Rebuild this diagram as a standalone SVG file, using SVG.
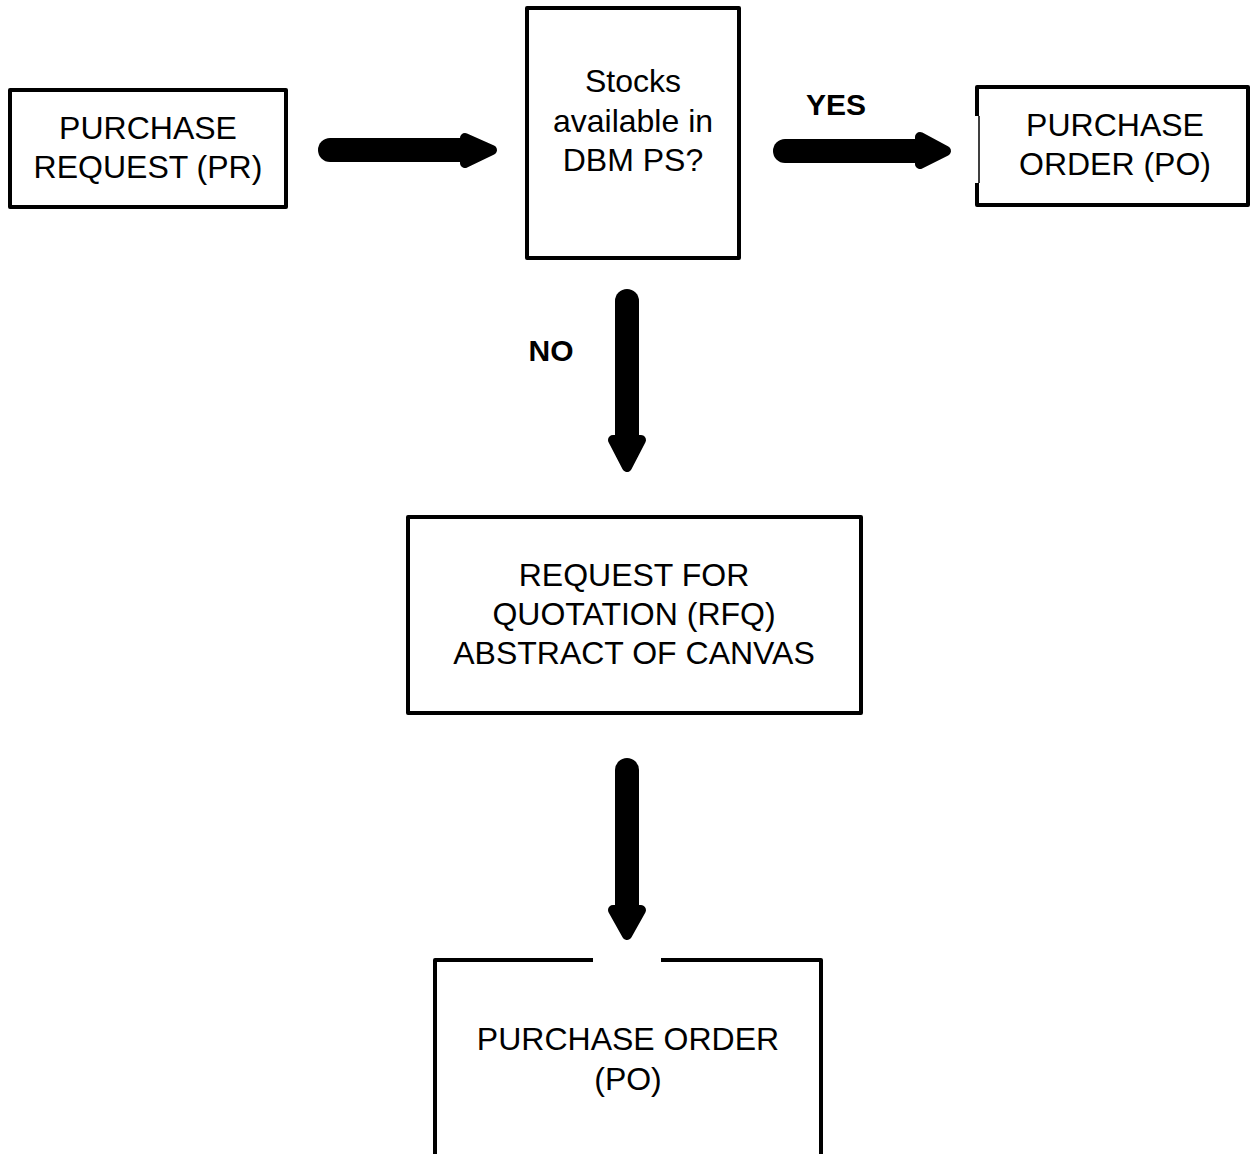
<svg xmlns="http://www.w3.org/2000/svg" width="1252" height="1154" viewBox="0 0 1252 1154">
<style>
.box{fill:none;stroke:#000;stroke-width:4;stroke-linejoin:round}
.t{font-family:"Liberation Sans",Arial,sans-serif;font-size:32px;fill:#000;text-anchor:middle}
.b{font-family:"Liberation Sans",Arial,sans-serif;font-size:30px;font-weight:bold;fill:#000;text-anchor:middle}
.shaft{stroke:#000;stroke-width:24;stroke-linecap:round;fill:none}
.head{fill:#000;stroke:#000;stroke-width:10;stroke-linejoin:round}
</style>
<rect width="1252" height="1154" fill="#fff"/>
<g id="connectors">
  <line class="shaft" x1="330" y1="150" x2="468" y2="150"/>
  <polygon class="head" points="465,138 492,150 465,163"/>
  <line class="shaft" x1="785" y1="151" x2="922" y2="151"/>
  <polygon class="head" points="920,137 946,151 920,164"/>
  <line class="shaft" x1="627" y1="301" x2="627" y2="440"/>
  <polygon class="head" points="613,440 627,467 641,440"/>
  <line class="shaft" x1="627" y1="770" x2="627" y2="910"/>
  <polygon class="head" points="613,910 627,935 641,910"/>
</g>
<g id="pr">
  <rect class="box" x="10" y="90" width="276" height="117"/>
  <text class="t" x="148" y="139">PURCHASE</text>
  <text class="t" x="148" y="178">REQUEST (PR)</text>
</g>
<g id="decision">
  <rect class="box" x="527" y="8" width="212" height="250"/>
  <text class="t" x="633" y="92">Stocks</text>
  <text class="t" x="633" y="132">available in</text>
  <text class="t" x="633" y="171">DBM PS?</text>
</g>
<g id="yes-label"><text class="b" x="836" y="115">YES</text></g>
<g id="no-label"><text class="b" x="551" y="361">NO</text></g>
<g id="po-right">
  <path class="box" d="M977 116 V87 H1248 V205 H977 V183"/>
  <line x1="979" y1="116" x2="979" y2="183" stroke="#000" stroke-width="1.5"/>
  <text class="t" x="1115" y="136">PURCHASE</text>
  <text class="t" x="1115" y="175">ORDER (PO)</text>
</g>
<g id="rfq">
  <rect class="box" x="408" y="517" width="453" height="196"/>
  <text class="t" x="634" y="586">REQUEST FOR</text>
  <text class="t" x="634" y="625">QUOTATION (RFQ)</text>
  <text class="t" x="634" y="664">ABSTRACT OF CANVAS</text>
</g>
<g id="po-bottom">
  <path class="box" d="M593 960 H435 V1160"/>
  <path class="box" d="M661 960 H821 V1160"/>
  <text class="t" x="628" y="1050">PURCHASE ORDER</text>
  <text class="t" x="628" y="1090">(PO)</text>
</g>
</svg>
